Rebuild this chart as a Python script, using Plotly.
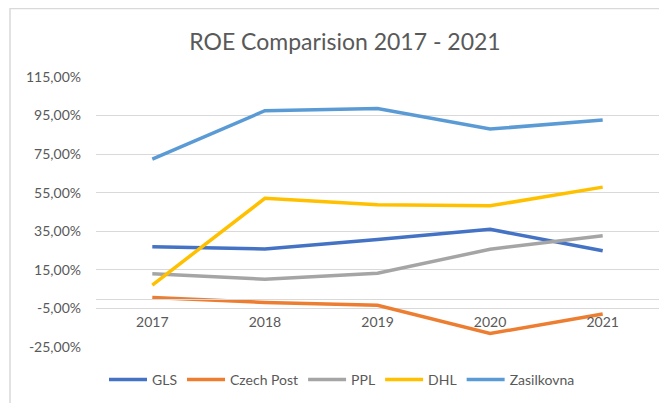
import plotly.graph_objects as go

years = ["2017", "2018", "2019", "2020", "2021"]
gls = [27.0, 25.8, 30.8, 36.0, 24.9]
czech_post = [0.7, -1.9, -3.4, -18.0, -7.9]
ppl = [13.0, 10.1, 13.2, 25.7, 32.7]
dhl = [7.1, 52.1, 48.7, 48.2, 57.9]
zasilkovna = [72.4, 97.5, 98.7, 88.0, 92.7]

series = [
    ("GLS", gls, "#4472C4"),
    ("Czech Post", czech_post, "#ED7D31"),
    ("PPL", ppl, "#A5A5A5"),
    ("DHL", dhl, "#FFC000"),
    ("Zasilkovna", zasilkovna, "#5B9BD5"),
]

y_tickvals = [-25, -5, 15, 35, 55, 75, 95, 115]
y_ticktext = ["-25,00%", "-5,00%", "15,00%", "35,00%", "55,00%", "75,00%", "95,00%", "115,00%"]

font_family = "Lato, 'Open Sans', sans-serif"
text_color = "#595959"

W, H = 667, 403
L, R, T, B = 88, 16, 69, 64
PW, PH = W - L - R, H - T - B

fig = go.Figure()
for name, vals, color in series:
    fig.add_trace(go.Scatter(
        x=years, y=vals, name=name, mode="lines",
        line=dict(color=color, width=3.5),
    ))

fig.update_layout(
    width=W, height=H,
    margin=dict(l=L, r=R, t=T, b=B, autoexpand=False),
    paper_bgcolor="white", plot_bgcolor="white",
    font=dict(family=font_family, color=text_color, size=14),
    title=dict(text="ROE Comparision 2017 - 2021", x=337 / W, xref="container",
               xanchor="center", y=1 - 34 / H, yref="container", yanchor="middle",
               font=dict(size=23, color=text_color, family=font_family)),
    showlegend=True,
    legend=dict(orientation="h", x=334 / W, xref="container", xanchor="center",
                y=1 - 372 / H, yref="container", yanchor="middle", itemwidth=38,
                font=dict(size=14, color=text_color), bgcolor="rgba(0,0,0,0)"),
    xaxis=dict(
        type="category", range=[-0.5, 4.5], anchor="free", position=25 / 140,
        showline=True, linecolor="#d9d9d9", linewidth=1, automargin=False,
        showgrid=False, ticks="", ticklabelstandoff=10,
        tickfont=dict(size=14, color=text_color),
    ),
    yaxis=dict(
        range=[-25, 115], tickvals=y_tickvals, ticktext=y_ticktext, automargin=False,
        showgrid=True, gridcolor="#d9d9d9", gridwidth=1,
        zeroline=False, showline=False, ticks="", ticklabelstandoff=14,
        tickfont=dict(size=14, color=text_color),
    ),
    shapes=[dict(type="rect", xref="paper", yref="paper",
                 x0=(2 - L) / PW, x1=1.2, y0=-0.4, y1=(H - B - 0.5) / PH,
                 line=dict(color="#d9d9d9", width=1.5), layer="below")],
)

fig.write_html("out.html")
